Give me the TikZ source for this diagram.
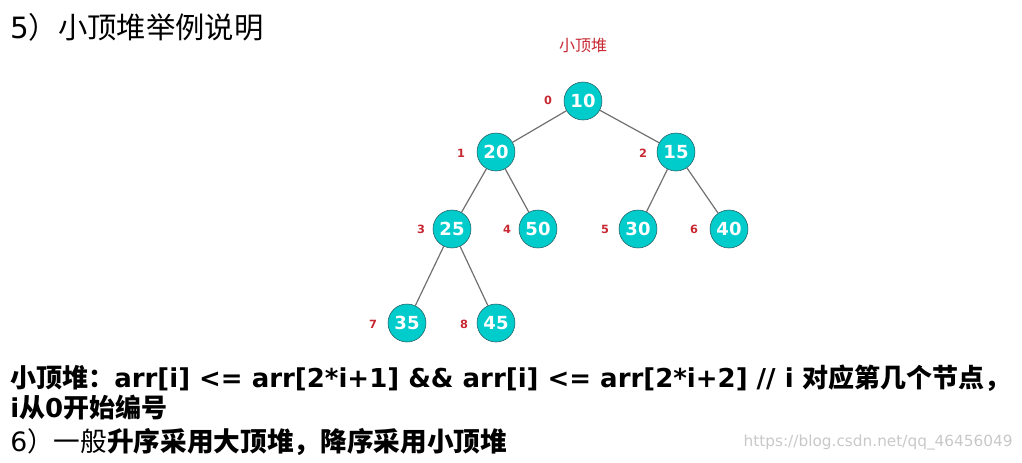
\documentclass[tikz,border=0pt]{standalone}
\usepackage{fontspec}
\setmainfont{DejaVu Sans}
\newfontfamily\cjk{Noto Sans CJK SC}
\usepackage{xcolor}
\usetikzlibrary{positioning}
\definecolor{heapcyan}  {RGB}{0,204,204}
\definecolor{heapedge}  {RGB}{112,112,112}
\definecolor{heapline}  {RGB}{40,90,95}
\definecolor{heapred}   {RGB}{200,40,50}
\definecolor{markgray}  {RGB}{200,200,200}
\newcommand{\zh}[1]{{\cjk #1}}

\begin{document}
\begin{tikzpicture}[
  x=0.75pt,y=-0.75pt,
  hnode/.style={circle,draw=heapline,fill=heapcyan,minimum size=28.5pt,
                inner sep=0pt,text=white,font=\fontsize{13.5}{13.5}\selectfont\bfseries},
  idx/.style={text=heapred,font=\fontsize{8.5}{8.5}\selectfont\bfseries},
  hedge/.style={heapedge,line width=0.9pt},
  txt/.style={anchor=west,inner sep=0pt,font=\fontsize{20}{20}\selectfont},
]
\useasboundingbox (0,0) rectangle (1022,462);

%% ── Heading ──────────────────────────────────────────────────────────────────
\node[txt,font=\fontsize{22}{22}\selectfont] (title) at (10,27)
  {5\zh{）小顶堆举例说明}};
\node[text=heapred,font=\cjk\fontsize{12}{12}\selectfont] (caption) at (583,45)
  {小顶堆};

%% ── Heap nodes ───────────────────────────────────────────────────────────────
\node[hnode] (n0) at (583,101) {10};
\node[hnode] (n1) at (496,152) {20};
\node[hnode] (n2) at (676,152) {15};
\node[hnode] (n3) at (452,229) {25};
\node[hnode] (n4) at (538,229) {50};
\node[hnode] (n5) at (638,229) {30};
\node[hnode] (n6) at (729,229) {40};
\node[hnode] (n7) at (407,323) {35};
\node[hnode] (n8) at (496,323) {45};

%% ── Edges ────────────────────────────────────────────────────────────────────
\draw[hedge] (n0) -- (n1);
\draw[hedge] (n0) -- (n2);
\draw[hedge] (n1) -- (n3);
\draw[hedge] (n1) -- (n4);
\draw[hedge] (n2) -- (n5);
\draw[hedge] (n2) -- (n6);
\draw[hedge] (n3) -- (n7);
\draw[hedge] (n3) -- (n8);

%% ── Array indices ────────────────────────────────────────────────────────────
\node[idx] (i0) at (548,100) {0};
\node[idx] (i1) at (461,153) {1};
\node[idx] (i2) at (643,153) {2};
\node[idx] (i3) at (421,229) {3};
\node[idx] (i4) at (507,229) {4};
\node[idx] (i5) at (605,229) {5};
\node[idx] (i6) at (694,229) {6};
\node[idx] (i7) at (373,324) {7};
\node[idx] (i8) at (464,324) {8};

%% ── Explanation ──────────────────────────────────────────────────────────────
\node[txt,font=\fontsize{19.5}{19.5}\selectfont\bfseries] (rule) at (10,378)
  {\zh{小顶堆：}arr[i] <= arr[2*i+1] \&\& arr[i] <= arr[2*i+2] // i \zh{对应第几个节点，}};
\node[txt,font=\fontsize{19.5}{19.5}\selectfont\bfseries] (rule2) at (10,408)
  {i\zh{从}0\zh{开始编号}};
\node[txt] (note) at (10,442)
  {6\zh{）一般}\textbf{\zh{升序采用大顶堆，降序采用小顶堆}}};

%% ── Watermark ────────────────────────────────────────────────────────────────
\node[anchor=east,inner sep=0pt,text=markgray,font=\fontsize{11.5}{11.5}\selectfont]
  (mark) at (1013,442) {https://blog.csdn.net/qq\_46456049};

\end{tikzpicture}
\end{document}
